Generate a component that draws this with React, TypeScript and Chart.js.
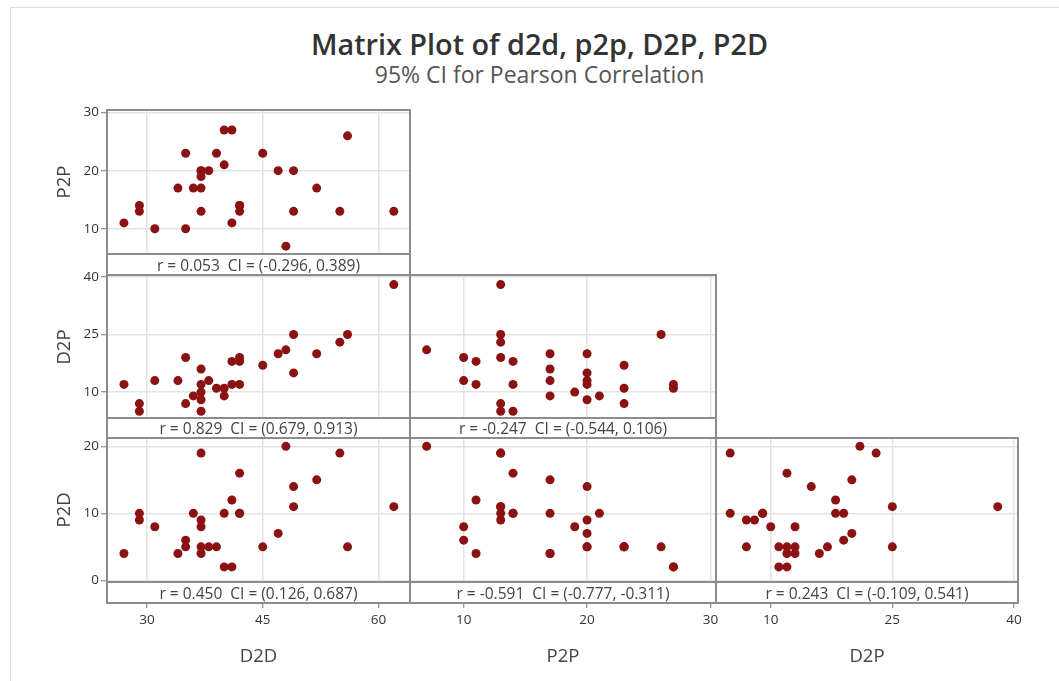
import React, { useEffect, useRef } from 'react';
import { Chart, registerables } from 'chart.js';

Chart.register(...registerables);

// ---- Data (one entry per observation) ----
const d2d = [48, 31, 35, 27, 41, 62, 55, 49, 49, 29, 29, 37, 42, 42, 42, 40, 41, 56, 45, 39, 35, 40, 37, 47, 37, 37, 38, 52, 36, 34, 37];
const p2p = [7, 10, 10, 11, 11, 13, 13, 13, 20, 14, 13, 13, 13, 14, 14, 27, 27, 26, 23, 23, 23, 21, 19, 20, 20, 20, 20, 17, 17, 17, 17];
const d2pVals = [21, 13, 19, 12, 18, 38, 23, 25, 15, 5, 7, 5, 19, 12, 18, 11, 12, 25, 17, 11, 7, 9, 10, 20, 8, 12, 13, 20, 9, 13, 16];
const p2dVals = [20, 8, 6, 4, 12, 11, 19, 11, 14, 10, 9, 19, 10, 16, 10, 2, 2, 5, 5, 5, 5, 10, 8, 7, 9, 5, 5, 15, 10, 4, 4];

// ---- Tick labels ----
const d2dTicks = [30, 45, 60];
const p2pTicks = [10, 20, 30];
const d2pTicks = [10, 25, 40];
const p2dTicks = [0, 10, 20];

// ---- Correlation captions ----
const captionP2PvsD2D = 'r = 0.053  CI = (-0.296, 0.389)';
const captionD2PvsD2D = 'r = 0.829  CI = (0.679, 0.913)';
const captionD2PvsP2P = 'r = -0.247  CI = (-0.544, 0.106)';
const captionP2DvsD2D = 'r = 0.450  CI = (0.126, 0.687)';
const captionP2DvsP2P = 'r = -0.591  CI = (-0.777, -0.311)';
const captionP2DvsD2P = 'r = 0.243  CI = (-0.109, 0.541)';

const titleText = 'Matrix Plot of d2d, p2p, D2P, P2D';
const subtitleText = '95% CI for Pearson Correlation';

type VarDef = { name: string; values: number[]; min: number; max: number; ticks: number[] };
const D2D: VarDef = { name: 'D2D', values: d2d, min: 24.8, max: 64.1, ticks: d2dTicks };
const P2P: VarDef = { name: 'P2P', values: p2p, min: 5.65, max: 30.45, ticks: p2pTicks };
const D2P: VarDef = { name: 'D2P', values: d2pVals, min: 3.25, max: 40.5, ticks: d2pTicks };
const P2D: VarDef = { name: 'P2D', values: p2dVals, min: -0.25, max: 21.25, ticks: p2dTicks };

const colVars = [D2D, P2P, D2P];
const rowVars = [P2P, D2P, P2D];

const W = 1059;
const H = 681;
const colEdges = [107, 410, 716, 1018];
const rowTops = [110, 275, 438];
const plotBottoms = [254, 418, 582];
const stripBottoms = [275, 438, 603];

const panels = [
  { row: 0, col: 0, caption: captionP2PvsD2D },
  { row: 1, col: 0, caption: captionD2PvsD2D },
  { row: 1, col: 1, caption: captionD2PvsP2P },
  { row: 2, col: 0, caption: captionP2DvsD2D },
  { row: 2, col: 1, caption: captionP2DvsP2P },
  { row: 2, col: 2, caption: captionP2DvsD2P },
];

const FONT = '"Open Sans", "Noto Sans", sans-serif';
const POINT_COLOR = '#8b1212';
const GRID_COLOR = '#e3e3e3';
const FRAME_COLOR = '#8c8c8c';

function Panel({ row, col }: { row: number; col: number }) {
  const ref = useRef<HTMLCanvasElement | null>(null);
  useEffect(() => {
    const canvas = ref.current;
    if (!canvas) return;
    const xv = colVars[col];
    const yv = rowVars[row];
    const showX = row === 2;
    const showY = col === 0;
    const left = colEdges[col];
    const right = colEdges[col + 1];
    const top = rowTops[row];
    const bottom = plotBottoms[row];
    const chart = new Chart(canvas, {
      type: 'scatter',
      data: {
        datasets: [
          {
            data: xv.values.map((x, i) => ({ x, y: yv.values[i] })),
            pointRadius: 4.5,
            pointHoverRadius: 4.5,
            backgroundColor: POINT_COLOR,
            borderWidth: 0,
          },
        ],
      },
      options: {
        responsive: false,
        animation: false,
        devicePixelRatio: 1,
        events: [],
        layout: { padding: { left: 0, top, right: W - right, bottom: 0 } },
        plugins: { legend: { display: false }, tooltip: { enabled: false }, title: { display: false } },
        scales: {
          x: {
            type: 'linear',
            position: 'bottom',
            min: xv.min,
            max: xv.max,
            afterBuildTicks: (s: any) => {
              s.ticks = xv.ticks.map((v) => ({ value: v }));
            },
            afterFit: (s: any) => {
              s.height = H - bottom;
            },
            grid: {
              color: GRID_COLOR,
              lineWidth: 1.5,
              drawTicks: showX,
              tickLength: 26,
              tickColor: '#777',
              tickWidth: 1,
            },
            border: { display: false },
            ticks: { display: showX, padding: 4, color: '#333', font: { family: FONT, size: 13.5 } },
          },
          y: {
            type: 'linear',
            position: 'left',
            min: yv.min,
            max: yv.max,
            afterBuildTicks: (s: any) => {
              s.ticks = yv.ticks.map((v) => ({ value: v }));
            },
            afterFit: (s: any) => {
              s.width = left;
            },
            grid: {
              color: GRID_COLOR,
              lineWidth: 1.5,
              drawTicks: showY,
              tickLength: 6,
              tickColor: '#777',
              tickWidth: 1,
            },
            border: { display: false },
            ticks: { display: showY, padding: 2, color: '#333', font: { family: FONT, size: 13.5 } },
          },
        },
      },
    } as any);
    return () => chart.destroy();
  }, [row, col]);
  return (
    <canvas
      ref={ref}
      width={W}
      height={H}
      style={{ position: 'absolute', left: 0, top: 0, width: W, height: H }}
    />
  );
}

export default function App() {
  return (
    <div
      style={{
        position: 'fixed',
        left: 0,
        top: 0,
        width: W,
        height: H,
        background: '#fff',
        fontFamily: FONT,
        overflow: 'hidden',
      }}
    >
      <div
        style={{
          position: 'absolute',
          left: 10,
          top: 7,
          right: -2,
          bottom: -2,
          borderTop: '1px solid #dcdcdc',
          borderLeft: '1px solid #dcdcdc',
        }}
      />
      <div
        style={{
          position: 'absolute',
          left: 20,
          width: W - 20,
          top: 25,
          textAlign: 'center',
          fontSize: 28.8,
          fontWeight: 600,
          color: '#333',
          lineHeight: '38px',
        }}
      >
        {titleText}
      </div>
      <div
        style={{
          position: 'absolute',
          left: 20,
          width: W - 20,
          top: 60,
          textAlign: 'center',
          fontSize: 23,
          color: '#555',
          lineHeight: '28px',
        }}
      >
        {subtitleText}
      </div>
      {panels.map((p) => (
        <Panel key={`c${p.row}${p.col}`} row={p.row} col={p.col} />
      ))}
      {panels.map((p) => {
        const l = colEdges[p.col];
        const r = colEdges[p.col + 1];
        const t = rowTops[p.row];
        const pb = plotBottoms[p.row];
        const sb = stripBottoms[p.row];
        return (
          <React.Fragment key={`f${p.row}${p.col}`}>
            <div
              style={{
                position: 'absolute',
                left: l,
                top: pb,
                width: r - l,
                height: sb - pb,
                background: '#fff',
                color: '#444',
                fontSize: 15.5,
                lineHeight: `${sb - pb + 1}px`,
                textAlign: 'center',
                whiteSpace: 'pre',
              }}
            >
              {p.caption}
            </div>
            <div
              style={{
                position: 'absolute',
                left: l - 1,
                top: pb - 1,
                width: r - l + 2,
                height: 2,
                background: FRAME_COLOR,
              }}
            />
            <div
              style={{
                position: 'absolute',
                left: l - 1,
                top: t - 1,
                width: r - l + 2,
                height: sb - t + 2,
                border: `2px solid ${FRAME_COLOR}`,
                boxSizing: 'border-box',
                pointerEvents: 'none',
              }}
            />
          </React.Fragment>
        );
      })}
      {rowVars.map((v, i) => (
        <div
          key={`yt${i}`}
          style={{
            position: 'absolute',
            left: 63 - 40,
            top: (rowTops[i] + plotBottoms[i]) / 2 - 12,
            width: 80,
            height: 24,
            lineHeight: '24px',
            textAlign: 'center',
            fontSize: 18.5,
            color: '#444',
            transform: 'rotate(-90deg)',
          }}
        >
          {v.name}
        </div>
      ))}
      {colVars.map((v, i) => (
        <div
          key={`xt${i}`}
          style={{
            position: 'absolute',
            left: colEdges[i],
            width: colEdges[i + 1] - colEdges[i],
            top: 643,
            height: 24,
            lineHeight: '24px',
            textAlign: 'center',
            fontSize: 18.5,
            color: '#444',
          }}
        >
          {v.name}
        </div>
      ))}
    </div>
  );
}
